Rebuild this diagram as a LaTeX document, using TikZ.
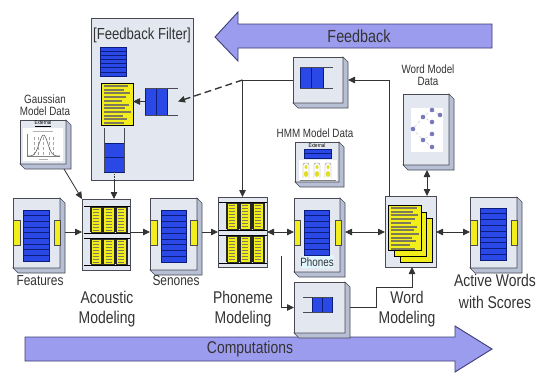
\documentclass[tikz,border=0pt]{standalone}
\usepackage{fontspec}
\setmainfont{Liberation Sans}[FakeStretch=0.82]
\usetikzlibrary{arrows.meta,calc}

\definecolor{facec}{HTML}{E3E7F0}
\definecolor{sidec}{HTML}{B7BFD4}
\definecolor{edgec}{HTML}{4A4A55}
\definecolor{bluec}{HTML}{2A48E6}
\definecolor{bluedk}{HTML}{0C1C7A}
\definecolor{yelc}{HTML}{F2EE1C}
\definecolor{olivec}{HTML}{7E7A5A}
\definecolor{arrfill}{HTML}{9C9CEE}
\definecolor{arredge}{HTML}{3C3C78}
\definecolor{textc}{HTML}{333333}
\definecolor{filterc}{HTML}{E8ECF4}
\definecolor{dotc}{HTML}{7878BC}

\newcommand\fsz[1]{\fontsize{#1}{#1}\selectfont}
% rectangle node from two corners
\newcommand\mkbox[6]{\node[#1, minimum width={(#5)-(#3)}, minimum height={(#6)-(#4)}] (#2) at ({((#3)+(#5))/2},{((#4)+(#6))/2}) {};}
% right and bottom faces of a raised box
\newcommand\depth[1]{\filldraw[sidef] (#1.north east) -- ([shift={(5,5)}]#1.north east) -- ([shift={(5,5)}]#1.south east) -- ([shift={(5,5)}]#1.south west) -- (#1.south west) -- (#1.south east) -- cycle;}
% stack of blue records
\newcommand\bstack[5]{%
  \fill[bluec] (#1,#2) rectangle (#3,#4);
  \pgfmathsetmacro\bsdy{((#4)-(#2))/#5}
  \pgfmathtruncatemacro\bsnm{#5-1}
  \foreach \k in {1,...,\bsnm} {\draw[bluedk, line width=.7] (#1,{#2+\k*\bsdy}) -- (#3,{#2+\k*\bsdy});}
  \draw[bluedk, line width=.8] (#1,#2) rectangle (#3,#4);}
% yellow tab on a box edge
\newcommand\ytab[4]{\filldraw[fill=yelc, draw=edgec, line width=.5] (#1,#2) rectangle (#3,#4);}
% striped yellow card with dark side edges
\newcommand\ycard[4]{%
  \filldraw[fill=yelc, draw=black!80, line width=.5] (#1,#2) rectangle (#3,#4);
  \draw[black!85, line width=1.1] (#1,#2) -- (#1,#4) (#3,#2) -- (#3,#4);
  \foreach \k in {0,...,7} {\draw[olivec, line width=1.2] ({#1+2},{#2+2.6+\k*3}) -- ({#3-3},{#2+2.6+\k*3});}}
% yellow page with text bars
\newcommand\ypage[5]{%
  \filldraw[fill=yelc, draw=black, line width=.6] (#1,#2) rectangle (#3,#4);
  \foreach \L [count=\k] in {#5} {\fill[olivec] ({#1+2.5},{#2+2+(\k-1)*3.7}) rectangle ++(\L,2);}}
\newcommand\ysheet[4]{\filldraw[fill=yelc, draw=black, line width=.6] (#1,#2) rectangle (#3,#4);}

\tikzset{
  facef/.style={draw=edgec, fill=facec, line width=.6, inner sep=0, outer sep=0},
  flatf/.style={draw=edgec, fill=facec, line width=.7, inner sep=0, outer sep=0},
  sidef/.style={draw=edgec, fill=sidec, line width=.6},
  ghost/.style={inner sep=0, outer sep=0},
  lab/.style={text=textc, inner sep=0},
  arr/.style={draw=textc, line width=.8, -{Triangle[length=7pt,width=6.5pt]}},
  darr/.style={draw=textc, line width=.8, {Triangle[length=7pt,width=6.5pt]}-{Triangle[length=7pt,width=6.5pt]}},
  bigarrow/.style={fill=arrfill, draw=arredge, line width=.9},
  qline/.style={draw=edgec, line width=.8},
}

\begin{document}
\begin{tikzpicture}[x=1pt, y=-1pt]
\fill[white] (0,0) rectangle (539,373);
\useasboundingbox (0,0) rectangle (539,373);

% ---------- large direction arrows ----------
\filldraw[bigarrow] (215,37) -- (238,12) -- (238,24) -- (492,24) -- (492,48) -- (238,48) -- (238,61) -- cycle;
\node[lab, font=\fsz{17.5}] (tfb) at (359,36) {Feedback};
\filldraw[bigarrow] (25,337) -- (455,337) -- (455,326) -- (492,349) -- (455,372) -- (455,361) -- (25,361) -- cycle;
\node[lab, font=\fsz{17}] (tcomp) at (250,349) {Computations};

% ---------- feedback filter ----------
\mkbox{flatf}{filter}{91}{18}{193}{180}
\node[lab, font=\fsz{16}] (tfilter) at (142,35) {[Feedback Filter]};
\bstack{100}{47}{126}{76}{7}
\ypage{101}{83}{133}{125}{24,20,26,22,18,25,21,27,19,23,20}
\mkbox{ghost}{fq}{145}{88}{178}{115}
\fill[bluec] (145,88) rectangle (167,115);
\draw[bluedk, line width=.8] (145,88) rectangle (167,115) (156,88) -- (156,115);
\draw[qline] (145,88) -- (178,88) (145,115) -- (178,115);
\draw[arr] (fq.west) -- (133,101.5);
\mkbox{ghost}{fbv}{104}{128}{124}{172}
\fill[bluec] (104,143) rectangle (124,172);
\draw[bluedk, line width=.8] (104,143) rectangle (124,172) (104,157.5) -- (124,157.5);
\draw[qline] (104,128) -- (104,172) (124,128) -- (124,172);

% ---------- model data boxes ----------
\mkbox{facef}{gauss}{20}{120}{66}{164}
\depth{gauss}
\fill[white] (23,128) rectangle (63,161);
\node[ghost, font=\fsz{5.5}] (gext) at (43,124) {\underline{External}};
\draw[gray!60, line width=.4] (33,131) -- (53,131);
\draw[gray, line width=.4] (27,134) -- (27,156) -- (60,156);
\foreach \xx in {34,38,43.5,49,53} {\draw[gray!70, line width=.3, densely dashed] (\xx,137) -- (\xx,156);}
\draw[gray!80!black, line width=.6] plot[domain=27:60, samples=40] (\x, {156-21*exp(-((\x-43.5)/6)*((\x-43.5)/6))});
\draw[gray!60, line width=.4] (39,159) -- (48,159);
\node[lab, font=\fsz{12}, align=center] (tgauss) at (45,105) {Gaussian\\[-0.5pt]Model Data};

\mkbox{facef}{hmm}{295}{142}{339}{182}
\depth{hmm}
\node[ghost, font=\fsz{5.5}] (hext) at (317,146) {External};
\bstack{304}{149}{331}{158}{2}
\fill[white] (299,160) rectangle (337,180);
\foreach \xx in {306,317,328} {
  \draw[gray, line width=.4, rounded corners=2] (\xx-3,178) -- (\xx-3,163) -- (\xx+3,163) -- (\xx+3,178);
  \fill[yelc!85!olivec] (\xx,174) ellipse (2.2 and 3);
  \fill[yelc!85!olivec] (\xx,167) ellipse (1.5 and 2);
}
\draw[gray, line width=.4] (300,180) -- (336,180);
\node[lab, font=\fsz{12}] (thmm) at (315,133) {HMM Model Data};

\mkbox{facef}{wmd}{403}{94}{449}{165}
\depth{wmd}
\fill[white] (411,108) rectangle (443,152);
\draw[gray!50, line width=.4, densely dashed] (423,117) -- (413,129) -- (423,140) (432,110) -- (423,117) -- (432,122) (432,110) -- (440,115) (432,134) -- (423,140) -- (432,147);
\foreach \p in {(413,129),(423,117),(432,110),(440,115),(432,122),(423,140),(432,134),(432,147)} {\fill[dotc] \p circle (2.3);}
\node[lab, font=\fsz{12}, align=center] (twmd) at (428,75) {Word Model\\[-0.5pt]Data};

% ---------- queue boxes ----------
\mkbox{facef}{tq}{293}{57}{343}{103}
\depth{tq}
\fill[bluec] (300,67) rectangle (323,88);
\draw[bluedk, line width=.8] (300,67) rectangle (323,88) (311.5,67) -- (311.5,88);
\draw[qline] (300,67) -- (333,67) (300,88) -- (333,88);

\mkbox{facef}{bq}{294}{282}{345}{333}
\depth{bq}
\fill[bluec] (312,297) rectangle (332,312);
\draw[bluedk, line width=.8] (312,297) rectangle (332,312) (322,297) -- (322,312);
\draw[qline] (303,297) -- (332,297) (303,312) -- (332,312);

% ---------- main pipeline ----------
\mkbox{facef}{feat}{13}{198}{60}{268}
\depth{feat}
\bstack{23}{210}{49}{261}{9}
\ytab{13}{220}{20}{245}
\ytab{54}{220}{60}{245}
\node[lab, font=\fsz{14.5}] (tfeat) at (40,281) {Features};

\mkbox{flatf}{acou}{82}{199}{130}{270}
\foreach \yy in {207,239} {
  \ycard{91}{\yy}{102}{\yy+25}
  \ycard{103.5}{\yy}{114.5}{\yy+25}
  \ycard{116}{\yy}{127}{\yy+25}
}
\draw[black, line width=.8] (84,206) -- (130,206) (84,233) -- (130,233) (84,238) -- (130,238) (84,265) -- (130,265);
\node[lab, font=\fontsize{17}{20}\selectfont, align=center] (tacou) at (107,309) {Acoustic\\Modeling};

\mkbox{facef}{sen}{150}{198}{197}{270}
\depth{sen}
\bstack{161}{210}{186}{262}{9}
\ytab{150}{220}{157}{245}
\ytab{190}{220}{197}{245}
\node[lab, font=\fsz{14.5}] (tsen) at (176,281) {Senones};

\mkbox{flatf}{phon}{218}{197}{267}{267}
\foreach \yy in {203,236} {
  \ycard{227}{\yy}{238}{\yy+26}
  \ycard{240}{\yy}{251}{\yy+26}
  \ycard{253}{\yy}{264}{\yy+26}
}
\draw[black, line width=.8] (219,202) -- (267,202) (219,230) -- (267,230) (219,235) -- (267,235) (219,263) -- (267,263);
\node[lab, font=\fontsize{17}{20}\selectfont, align=center] (tphon) at (243,309) {Phoneme\\Modeling};

\mkbox{facef}{phones}{294}{198}{340}{272}
\depth{phones}
\fill[cyan!12] (302,255) rectangle (334,268);
\bstack{304}{210}{329}{255}{8}
\ytab{294}{220}{300}{245}
\ytab{335}{220}{341}{245}
\node[lab, font=\fsz{12}] (tphones) at (317,262) {Phones};

\mkbox{flatf}{word}{385}{196}{436}{267}
\ysheet{400}{218}{432}{262}
\ysheet{394}{212}{426}{256}
\ypage{388}{205}{421}{250}{26,22,27,24,20,26,23,28,21,25,19,24}
\node[lab, font=\fontsize{17}{20}\selectfont, align=center] (tword) at (407,309) {Word\\Modeling};

\mkbox{facef}{act}{470}{197}{517}{268}
\depth{act}
\bstack{480}{208}{506}{260}{9}
\ytab{470}{220}{477}{245}
\ytab{511}{220}{517}{245}
\node[lab, font=\fontsize{17}{22}\selectfont, align=center] (tact) at (495,291) {Active Words\\with Scores};

% ---------- connectors ----------
\coordinate (row) at (0,232);
\draw[arr] ([xshift=5pt]feat.east |- row) -- (acou.west |- row);
\draw[arr] (acou.east |- row) -- (sen.west |- row);
\draw[arr] ([xshift=5pt]sen.east |- row) -- (phon.west |- row);
\draw[darr] (phon.east |- row) -- (phones.west |- row);
\draw[darr] ([xshift=5pt]phones.east |- row) -- (word.west |- row);
\draw[darr] (word.east |- row) -- (act.west |- row);

\draw[arr] ([shift={(-2,5)}]gauss.south east) -- (acou.north west);
\draw[densely dotted, line width=.8, textc] (fbv.south) -- (fbv.south |- filter.south);
\draw[arr] (fbv.south |- filter.south) -- (fbv.south |- acou.north);

\draw[arr] ([xshift=4pt]word.north west) -- ([xshift=4pt]word.north west |- tq.east) -- ([xshift=5pt]tq.east);
\draw[arr] (tq.west) -- (tq.west -| phon.north) -- (phon.north);
\draw[arr, dash pattern=on 7pt off 4pt, line width=1.3] (tq.west -| phon.north) -- (fq.east);
\draw[darr] ([shift={(1,5)}]wmd.south) -- ([xshift=1pt]wmd.south |- word.north);

\coordinate (tap) at (281,256);
\draw[arr] (tap) -- (tap |- bq.west) -- (bq.west);
\draw[arr] ([xshift=5pt]bq.east) -- ++(26,0) |- ($(word.south)+(1.5,20)$) -- ([xshift=1.5pt]word.south);
\end{tikzpicture}
\end{document}
